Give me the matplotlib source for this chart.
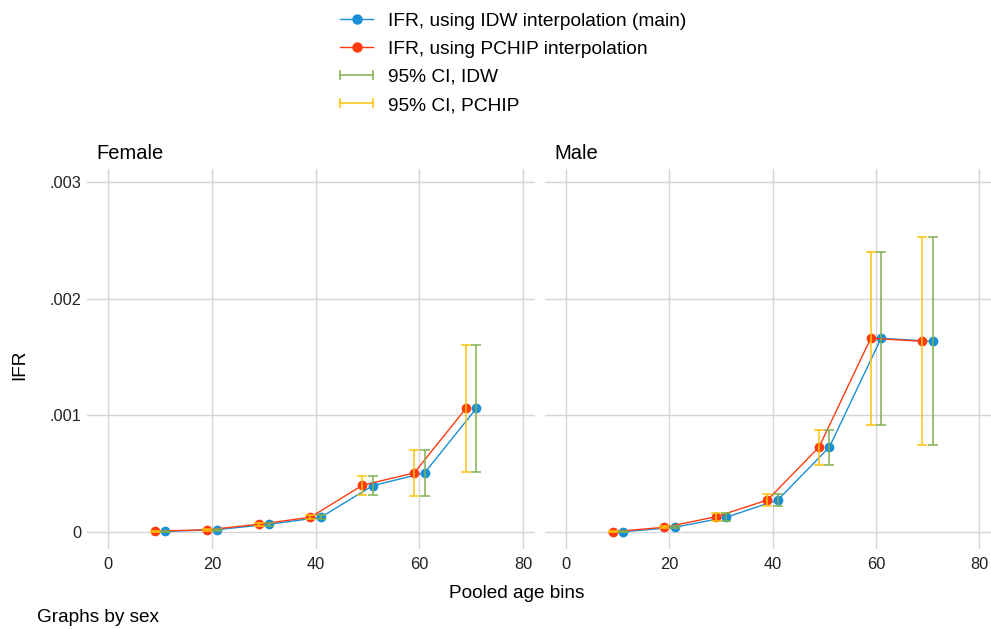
import matplotlib.pyplot as plt
from matplotlib.lines import Line2D
from matplotlib.legend_handler import HandlerLine2D

plt.rcParams['font.family'] = ['Liberation Sans', 'DejaVu Sans']

# data
age_idw = [11, 21, 31, 41, 51, 61, 71]
age_pchip = [9, 19, 29, 39, 49, 59, 69]

female_idw = [0.000005, 0.00002, 0.000066, 0.000126, 0.000397, 0.000506, 0.00106]
female_pchip = [0.000008, 0.000018, 0.000066, 0.000126, 0.0004, 0.000506, 0.00106]
female_lo = [0.000002, 0.000012, 0.000055, 0.000108, 0.000314, 0.000306, 0.000517]
female_hi = [0.000009, 0.000028, 0.000078, 0.000144, 0.00048, 0.000705, 0.0016]

male_idw = [0.000002, 0.00004, 0.000126, 0.000274, 0.000728, 0.00166, 0.001634]
male_pchip = [0.000002, 0.00004, 0.00013, 0.000274, 0.000728, 0.00166, 0.001634]
male_lo = [0.0, 0.00003, 0.000092, 0.000223, 0.000577, 0.00092, 0.000743]
male_hi = [0.000005, 0.00005, 0.00016, 0.000323, 0.000877, 0.0024, 0.002525]

xticks = [0, 20, 40, 60, 80]
yticks = [0, 0.001, 0.002, 0.003]
ytick_labels = ['0', '.001', '.002', '.003']

c_idw = '#1a8fd6'
c_pchip = '#ff3c0f'
c_ci_idw = '#80b050'
c_ci_pchip = '#ffc20a'
grid_c = '#d6d6d6'

fig = plt.figure(figsize=(9.91, 6.29), dpi=100)
axL = fig.add_axes([87/991, 1-549/629, 448/991, 380/629])
axR = fig.add_axes([545/991, 1-549/629, 446/991, 380/629])

panels = [(axL, 'Female', female_idw, female_pchip, female_lo, female_hi),
          (axR, 'Male', male_idw, male_pchip, male_lo, male_hi)]

for ax, name, idw, pchip, lo, hi in panels:
    ax.plot(age_idw, idw, '-o', color=c_idw, lw=1.0, ms=6, zorder=3)
    ax.plot(age_pchip, pchip, '-o', color=c_pchip, lw=1.0, ms=6, zorder=3)
    # confidence intervals (same bounds for both methods)
    ax.vlines(age_idw, lo, hi, color=c_ci_idw, lw=1.1, zorder=4)
    ax.plot(age_idw, lo, '_', color=c_ci_idw, ms=7, mew=1.1, zorder=4)
    ax.plot(age_idw, hi, '_', color=c_ci_idw, ms=7, mew=1.1, zorder=4)
    ax.vlines(age_pchip, lo, hi, color=c_ci_pchip, lw=1.1, zorder=4)
    ax.plot(age_pchip, lo, '_', color=c_ci_pchip, ms=7, mew=1.1, zorder=4)
    ax.plot(age_pchip, hi, '_', color=c_ci_pchip, ms=7, mew=1.1, zorder=4)

    ax.set_xlim(-4.1, 82.3)
    ax.set_ylim(-0.000146, 0.003111)
    ax.set_xticks(xticks)
    ax.set_yticks(yticks)
    ax.grid(True, color=grid_c, lw=1.0, zorder=0)
    ax.set_axisbelow(True)
    for s in ax.spines.values():
        s.set_visible(False)
    ax.tick_params(length=0, labelsize=11.8, colors='#222222', pad=6)
    ax.set_title(name, loc='left', fontsize=14.5, x=0.022, y=1.0, pad=7)

axL.set_yticklabels(ytick_labels)
axR.set_yticklabels([])
axL.tick_params(axis='y', pad=4)

fig.text(20/991, 1-365/629, 'IFR', rotation=90, ha='center', va='center', fontsize=13.7)
fig.text(517/991, 1-593/629, 'Pooled age bins', ha='center', va='center', fontsize=13.7)
fig.text(37/991, 1-617/629, 'Graphs by sex', ha='left', va='center', fontsize=13.7)

h1 = Line2D([], [], color=c_idw, marker='o', lw=1.0, ms=6.5)
h2 = Line2D([], [], color=c_pchip, marker='o', lw=1.0, ms=6.5)
h3 = Line2D([], [], color=c_ci_idw, marker='|', lw=1.1, ms=7, mew=1.1)
h4 = Line2D([], [], color=c_ci_pchip, marker='|', lw=1.1, ms=7, mew=1.1)
cap_handler = HandlerLine2D(numpoints=2, marker_pad=0)
fig.legend([h1, h2, h3, h4],
           ['IFR, using IDW interpolation (main)', 'IFR, using PCHIP interpolation',
            '95% CI, IDW', '95% CI, PCHIP'],
           loc='upper left', bbox_to_anchor=(323/991, 1.008), frameon=False,
           fontsize=13.8, handlelength=1.72, handletextpad=0.78, labelspacing=0.56,
           handler_map={h3: cap_handler, h4: cap_handler})

fig.savefig('out.png', dpi=100)
